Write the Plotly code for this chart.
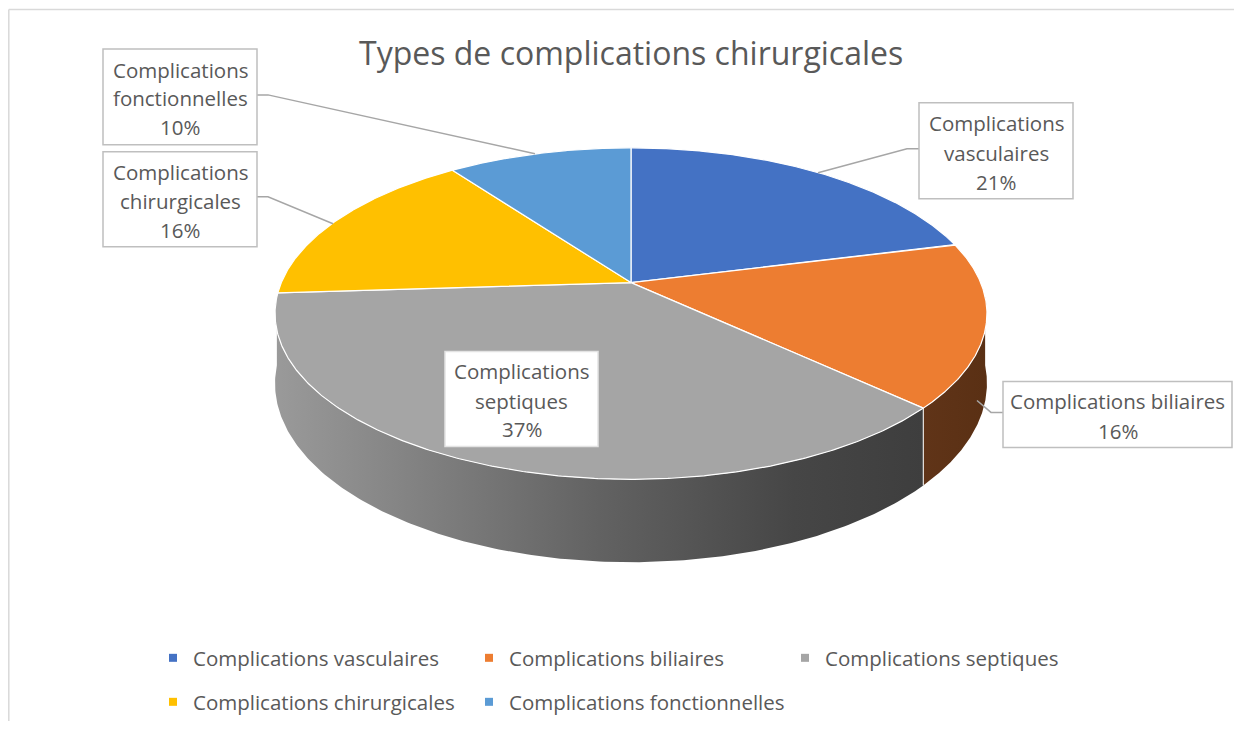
import numpy as np
import plotly.graph_objects as go

# ---------------- data ----------------
categories = ["Complications vasculaires", "Complications biliaires",
              "Complications septiques", "Complications chirurgicales",
              "Complications fonctionnelles"]
values = [21, 16, 37, 16, 10]
label_lines = [["Complications", "vasculaires"], ["Complications biliaires"],
               ["Complications", "septiques"], ["Complications", "chirurgicales"],
               ["Complications", "fonctionnelles"]]
title_text = "Types de complications chirurgicales"

# ---------------- styles ----------------
top_colors = ["#4472C4", "#ED7D31", "#A5A5A5", "#FFC000", "#5B9BD5"]
side_scales = [[[0, "#2B4A80"], [1, "#22406E"]],
               [[0, "#603418"], [1, "#5A3014"]],
               [[0, "#9A9A9A"], [0.5, "#626262"], [0.8, "#464646"], [1, "#3E3E3E"]],
               [[0, "#A07A00"], [1, "#8A6A00"]],
               [[0, "#3A6A99"], [1, "#325C85"]]]
TXT = "#595959"
FONT = "Open Sans"

# label boxes (x0, y0, x1, y1) and line y positions (layout, pixel space)
boxes = [(919, 103, 1073, 199), (1003, 382, 1232, 448), (445, 352, 598, 447),
         (103, 152, 257, 247), (103, 49, 257, 145)]
line_ys = [[123, 153, 182], [402, 432], [372, 402, 430], [172, 201, 230], [70, 98, 127]]
leaders = [[(919, 149), (907, 149), (818, 173)],
           [(1003, 413), (991, 413), (977, 401)],
           None,
           [(257, 197), (268, 197), (333, 224)],
           [(257, 95), (268, 95), (535, 154)]]
box_borders = ["#BFBFBF", "#BFBFBF", "#E3E3E3", "#BFBFBF", "#BFBFBF"]

# projection of the tilted pie (perspective)
CX, CY, A, B, K, D = 631.0, 283.0, 349.7, 160.2, 0.1867, 67.5


def proj(theta_deg, depth=0.0):
    t = np.radians(theta_deg)
    X, Y = np.sin(t), np.cos(t)
    w = 1 + K * Y
    return CX + A * X / w, CY - B * Y / w + depth * D / w


fig = go.Figure()

total = float(sum(values))
bounds = np.concatenate([[0], np.cumsum(values)]) / total * 360.0

# side walls (front half only)
VIS0, VIS1 = 95.0, 265.0
for i in range(len(values)):
    a, b = max(bounds[i], VIS0), min(bounds[i + 1], VIS1)
    if b <= a:
        continue
    th = np.linspace(a, b, 200)
    xt, yt = proj(th, 0)
    xb, yb = proj(th[::-1], 1)
    fig.add_trace(go.Scatter(
        x=np.concatenate([xt, xb]), y=np.concatenate([yt, yb]),
        mode="lines", fill="toself", line=dict(width=0),
        fillgradient=dict(type="horizontal", colorscale=side_scales[i]),
        hoverinfo="skip", showlegend=False))

# seams between walls
for bnd in bounds[1:-1]:
    if VIS0 < bnd < VIS1:
        x0, y0 = proj(bnd, 0)
        x1, y1 = proj(bnd, 1)
        fig.add_trace(go.Scatter(x=[x0, x1], y=[y0, y1], mode="lines",
                                 line=dict(color="white", width=1),
                                 hoverinfo="skip", showlegend=False))

# top faces
for i in range(len(values)):
    th = np.linspace(bounds[i], bounds[i + 1], 300)
    xs, ys = proj(th, 0)
    fig.add_trace(go.Scatter(
        x=np.concatenate([[CX], xs, [CX]]), y=np.concatenate([[CY], ys, [CY]]),
        mode="lines", fill="toself", fillcolor=top_colors[i],
        line=dict(color="white", width=1.2),
        hoverinfo="skip", showlegend=False))

# legend entries (two rows -> two legends)
for i, cat in enumerate(categories):
    fig.add_trace(go.Scatter(
        x=[None], y=[None], mode="markers", name=cat,
        marker=dict(symbol="square", size=8, color=top_colors[i]),
        legend="legend" if i < 3 else "legend2"))

# page body keeps an 8px margin, so the figure is sized to fit inside it
OFF = 8
W, H = 1242 - 2 * OFF, 730 - 2 * OFF

shapes = []
annotations = []
# outer chart border (left and top edges visible in the frame)
shapes.append(dict(type="line", xref="x", yref="y", x0=8.8, y0=9.5, x1=8.8, y1=OFF + H,
                   line=dict(color="#D9D9D9", width=1.5)))
shapes.append(dict(type="line", xref="x", yref="y", x0=8.8, y0=9.5, x1=OFF + W, y1=9.5,
                   line=dict(color="#D9D9D9", width=1.5)))

for i in range(len(values)):
    x0, y0, x1, y1 = boxes[i]
    if leaders[i]:
        pts = leaders[i]
        path = "M " + " L ".join(f"{px},{py}" for px, py in pts)
        shapes.append(dict(type="path", xref="x", yref="y", path=path,
                           line=dict(color="#A6A6A6", width=1.5)))
    shapes.append(dict(type="rect", xref="x", yref="y", x0=x0, y0=y0, x1=x1, y1=y1,
                       fillcolor="white", line=dict(color=box_borders[i], width=1.5)))
    pct = f"{round(values[i] / total * 100)}%"
    lines = label_lines[i] + [pct]
    for txt, ly in zip(lines, line_ys[i]):
        annotations.append(dict(xref="x", yref="y", x=(x0 + x1) / 2, y=ly, text=txt,
                                showarrow=False, xanchor="center", yanchor="middle",
                                font=dict(family=FONT, size=20.5, color=TXT)))

annotations.append(dict(xref="x", yref="y", x=631, y=53, text=title_text,
                        showarrow=False, xanchor="center", yanchor="middle",
                        font=dict(family=FONT, size=32, color=TXT)))


def py(yp):
    return 1 - (yp - OFF) / H


def px(xp):
    return (xp - OFF) / W


legend_common = dict(orientation="h", xanchor="left", yanchor="middle",
                     entrywidth=271, entrywidthmode="pixels", itemsizing="trace",
                     bgcolor="rgba(0,0,0,0)", borderwidth=0,
                     font=dict(family=FONT, size=20.5, color=TXT))

fig.update_layout(
    width=W, height=H, margin=dict(l=0, r=0, t=0, b=0),
    paper_bgcolor="white", plot_bgcolor="white",
    xaxis=dict(range=[OFF, OFF + W], visible=False, fixedrange=True),
    yaxis=dict(range=[OFF + H, OFF], visible=False, fixedrange=True),
    shapes=shapes, annotations=annotations, hovermode=False,
    legend=dict(x=px(153), y=py(658), **legend_common),
    legend2=dict(x=px(153), y=py(703), **legend_common),
    font=dict(family=FONT, color=TXT),
)

fig.write_html("out.html")
